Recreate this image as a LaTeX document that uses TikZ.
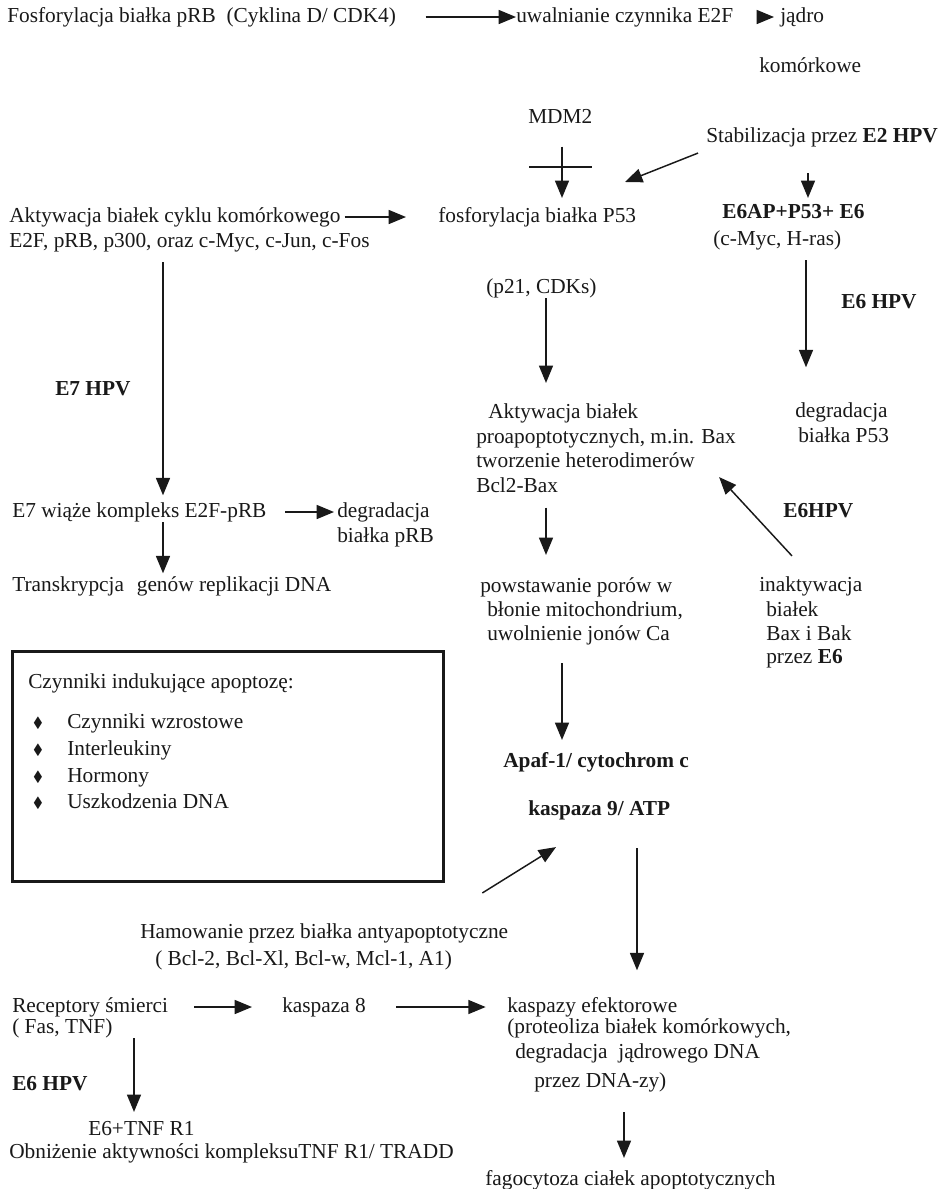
\documentclass[tikz,border=0pt]{standalone}
\usepackage{fontspec}
\setmainfont{Liberation Serif}
\usepackage{amssymb}
\usetikzlibrary{arrows.meta,calc}
\definecolor{ink}{gray}{0.1}

\begin{document}
\begin{tikzpicture}[x=0.75pt,y=-0.75pt,
  lbl/.style={anchor=west, inner sep=0pt, text=ink, text height=11.2pt, text depth=3.5pt,
              font=\fontsize{16}{19}\selectfont},
  blbl/.style={lbl, font=\fontsize{16}{19}\selectfont\bfseries},
  bul/.style={inner sep=0pt, text=ink, font=\fontsize{11}{11}\selectfont},
  arr/.style={draw=ink, line width=1.1pt, -{Triangle[length=13pt,width=10.5pt]}},
  ln/.style={draw=ink, line width=1.1pt},
  boxst/.style={draw=ink, line width=2.2pt, inner sep=0pt}
]
\useasboundingbox (0,0) rectangle (952,1189);
\fill[white] (0,0) rectangle (952,1189);

% columns used by the vertical connectors
\coordinate (cMid) at (562,0);
\coordinate (cE6) at (808,0);
\coordinate (cE6b) at (806,0);
\coordinate (cL) at (163,0);
\coordinate (cP) at (546,0);
\coordinate (cK) at (637,0);
\coordinate (cF) at (624,0);
\coordinate (cR) at (134,0);
\coordinate (mdmhit) at (625,182);
\coordinate (mbar) at (561,167);

% top row
\node[lbl] (fos) at (7,17) {Fosforylacja białka pRB\ \ (Cyklina D/ CDK4)};
\node[lbl] (uwal) at (516,17) {uwalnianie czynnika E2F};
\node[lbl] (jadro) at (780,17) {jądro};
\node[lbl] (kom) at (759,67) {komórkowe};
\node[lbl] (mdm) at (528,118) {MDM2};
\node[lbl] (stab) at (706,137) {Stabilizacja przez \textbf{E2 HPV}};

% cell cycle / P53 row
\node[lbl] (akt) at (9,217) {Aktywacja białek cyklu komórkowego};
\node[lbl] (akt2) at (9,242) {E2F, pRB, p300, oraz c-Myc, c-Jun, c-Fos};
\node[lbl] (fosp) at (438,217) {fosforylacja białka P53};
\node[blbl] (e6ap) at (722,213) {E6AP+P53+ E6};
\node[lbl] (cmyc) at (713,240) {(c-Myc, H-ras)};
\node[lbl] (p21) at (486,288) {(p21, CDKs)};
\node[blbl] (e6a) at (841,303) {E6 HPV};
\node[blbl] (e7) at (55,390) {E7 HPV};

% proapoptotic proteins
\node[lbl] (ab1) at (488,413) {Aktywacja białek};
\node[lbl] (ab2) at (476,438) {proapoptotycznych, m.in. Bax};
\node[lbl] (ab3) at (476,462) {tworzenie heterodimerów};
\node[lbl] (ab4) at (476,487) {Bcl2-Bax};
\node[lbl] (dp1) at (795,412) {degradacja};
\node[lbl] (dp2) at (798,437) {białka P53};
\node[blbl] (e6b) at (783,512) {E6HPV};

% E7 branch
\node[lbl] (e7w) at (12,512) {E7 wiąże kompleks E2F-pRB};
\node[lbl] (dr1) at (337,512) {degradacja};
\node[lbl] (dr2) at (337,537) {białka pRB};
\node[lbl] (tr) at (12,586) {Transkrypcja\hspace{0.6em}genów replikacji DNA};

% mitochondrium
\node[lbl] (pw1) at (480,587) {powstawanie porów w};
\node[lbl] (pw2) at (487,611) {błonie mitochondrium,};
\node[lbl] (pw3) at (487,635) {uwolnienie jonów Ca};
\node[lbl] (in1) at (759,586) {inaktywacja};
\node[lbl] (in2) at (766,611) {białek};
\node[lbl] (in3) at (766,635) {Bax i Bak};
\node[lbl] (in4) at (766,658) {przez \textbf{E6}};

% inducing factors box
\node[boxst, anchor=north west, minimum width=323.25pt, minimum height=172.5pt] (box) at (11,650) {};
\node[lbl] (czt) at (28,683) {Czynniki indukujące apoptozę:};
\node[bul] (b1) at (38,723) {$\blacklozenge$};
\node[bul] (b2) at (38,750) {$\blacklozenge$};
\node[bul] (b3) at (38,777) {$\blacklozenge$};
\node[bul] (b4) at (38,803) {$\blacklozenge$};
\node[lbl] (it1) at (67,723) {Czynniki wzrostowe};
\node[lbl] (it2) at (67,750) {Interleukiny};
\node[lbl] (it3) at (67,777) {Hormony};
\node[lbl] (it4) at (67,803) {Uszkodzenia DNA};

% caspase cascade
\node[blbl] (apaf) at (503,762) {Apaf-1/ cytochrom c};
\node[blbl] (k9) at (528,810) {kaspaza 9/ ATP};
\node[lbl] (ham1) at (140,933) {Hamowanie przez białka antyapoptotyczne};
\node[lbl] (ham2) at (155,960) {( Bcl-2, Bcl-Xl, Bcl-w, Mcl-1, A1)};
\node[lbl] (rec1) at (12,1007) {Receptory śmierci};
\node[lbl] (rec2) at (12,1028) {( Fas, TNF)};
\node[lbl] (k8) at (282,1007) {kaspaza 8};
\node[lbl] (kef) at (507,1007) {kaspazy efektorowe};
\node[lbl] (pr1) at (507,1028) {(proteoliza białek komórkowych,};
\node[lbl] (pr2) at (515,1053) {degradacja\ \ jądrowego DNA};
\node[lbl] (pr3) at (534,1082) {przez DNA-zy)};
\node[blbl] (e6c) at (12,1085) {E6 HPV};
\node[lbl] (e6t) at (88,1130) {E6+TNF R1};
\node[lbl] (obn) at (9,1153) {Obniżenie aktywności kompleksuTNF R1/ TRADD};
\node[lbl] (fag) at (485,1180) {fagocytoza ciałek apoptotycznych};

% connectors
\draw[arr, shorten <=22pt] (fos.east) -- (uwal.west);
\draw[arr, shorten <=24pt, shorten >=4.5pt] (uwal.east) -- (jadro.west);
\draw[arr, shorten <=14pt, shorten >=6.75pt] (mdm.south -| cMid) -- (fosp.north -| cMid);
\draw[ln] (mbar) +(-32,0) -- +(31,0);
\draw[arr] ($(stab.south west)+(-8,6)$) -- (mdmhit);
\draw[arr, shorten <=19.5pt, shorten >=3.75pt] (stab.south -| cE6) -- (e6ap.north -| cE6);
\draw[arr, shorten <=3pt, shorten >=24pt] (akt.east) -- (fosp.west);
\draw[arr, shorten <=7.5pt, shorten >=26pt] (cmyc.south -| cE6b) -- (dp1.north -| cE6b);
\draw[arr, shorten >=15pt] (p21.south -| cP) -- (ab1.north -| cP);
\draw[arr, shorten <=7.5pt, shorten >=5pt] (akt2.south -| cL) -- (e7w.north -| cL);
\draw[arr, shorten <=8pt, shorten >=16.5pt] (ab4.south -| cP) -- (pw1.north -| cP);
\draw[arr] ($(in1.north west)+(33,-20)$) -- ($(ab3.south east)+(24,5)$);
\draw[arr, shorten <=14pt, shorten >=2.25pt] (e7w.east) -- (dr1.west);
\draw[arr, shorten >=2pt] (e7w.south -| cL) -- (tr.north -| cL);
\draw[arr, shorten <=13.5pt, shorten >=9pt] (pw3.south -| cMid) -- (apaf.north -| cMid);
\draw[arr] ($(ham1.north east)+(-26,-30)$) -- ($(k9.south west)+(28,27)$);
\draw[arr, shorten <=21pt, shorten >=20pt] (k9.south -| cK) -- (kef.north -| cK);
\draw[arr, shorten <=19.5pt, shorten >=22.5pt] (rec1.east) -- (k8.west);
\draw[arr, shorten <=22.5pt, shorten >=16pt] (k8.east) -- (kef.west);
\draw[arr, shorten >=6pt] (rec2.south -| cR) -- (e6t.north -| cR);
\draw[arr, shorten <=15pt, shorten >=9pt] (pr3.south -| cF) -- (fag.north -| cF);
\end{tikzpicture}
\end{document}
